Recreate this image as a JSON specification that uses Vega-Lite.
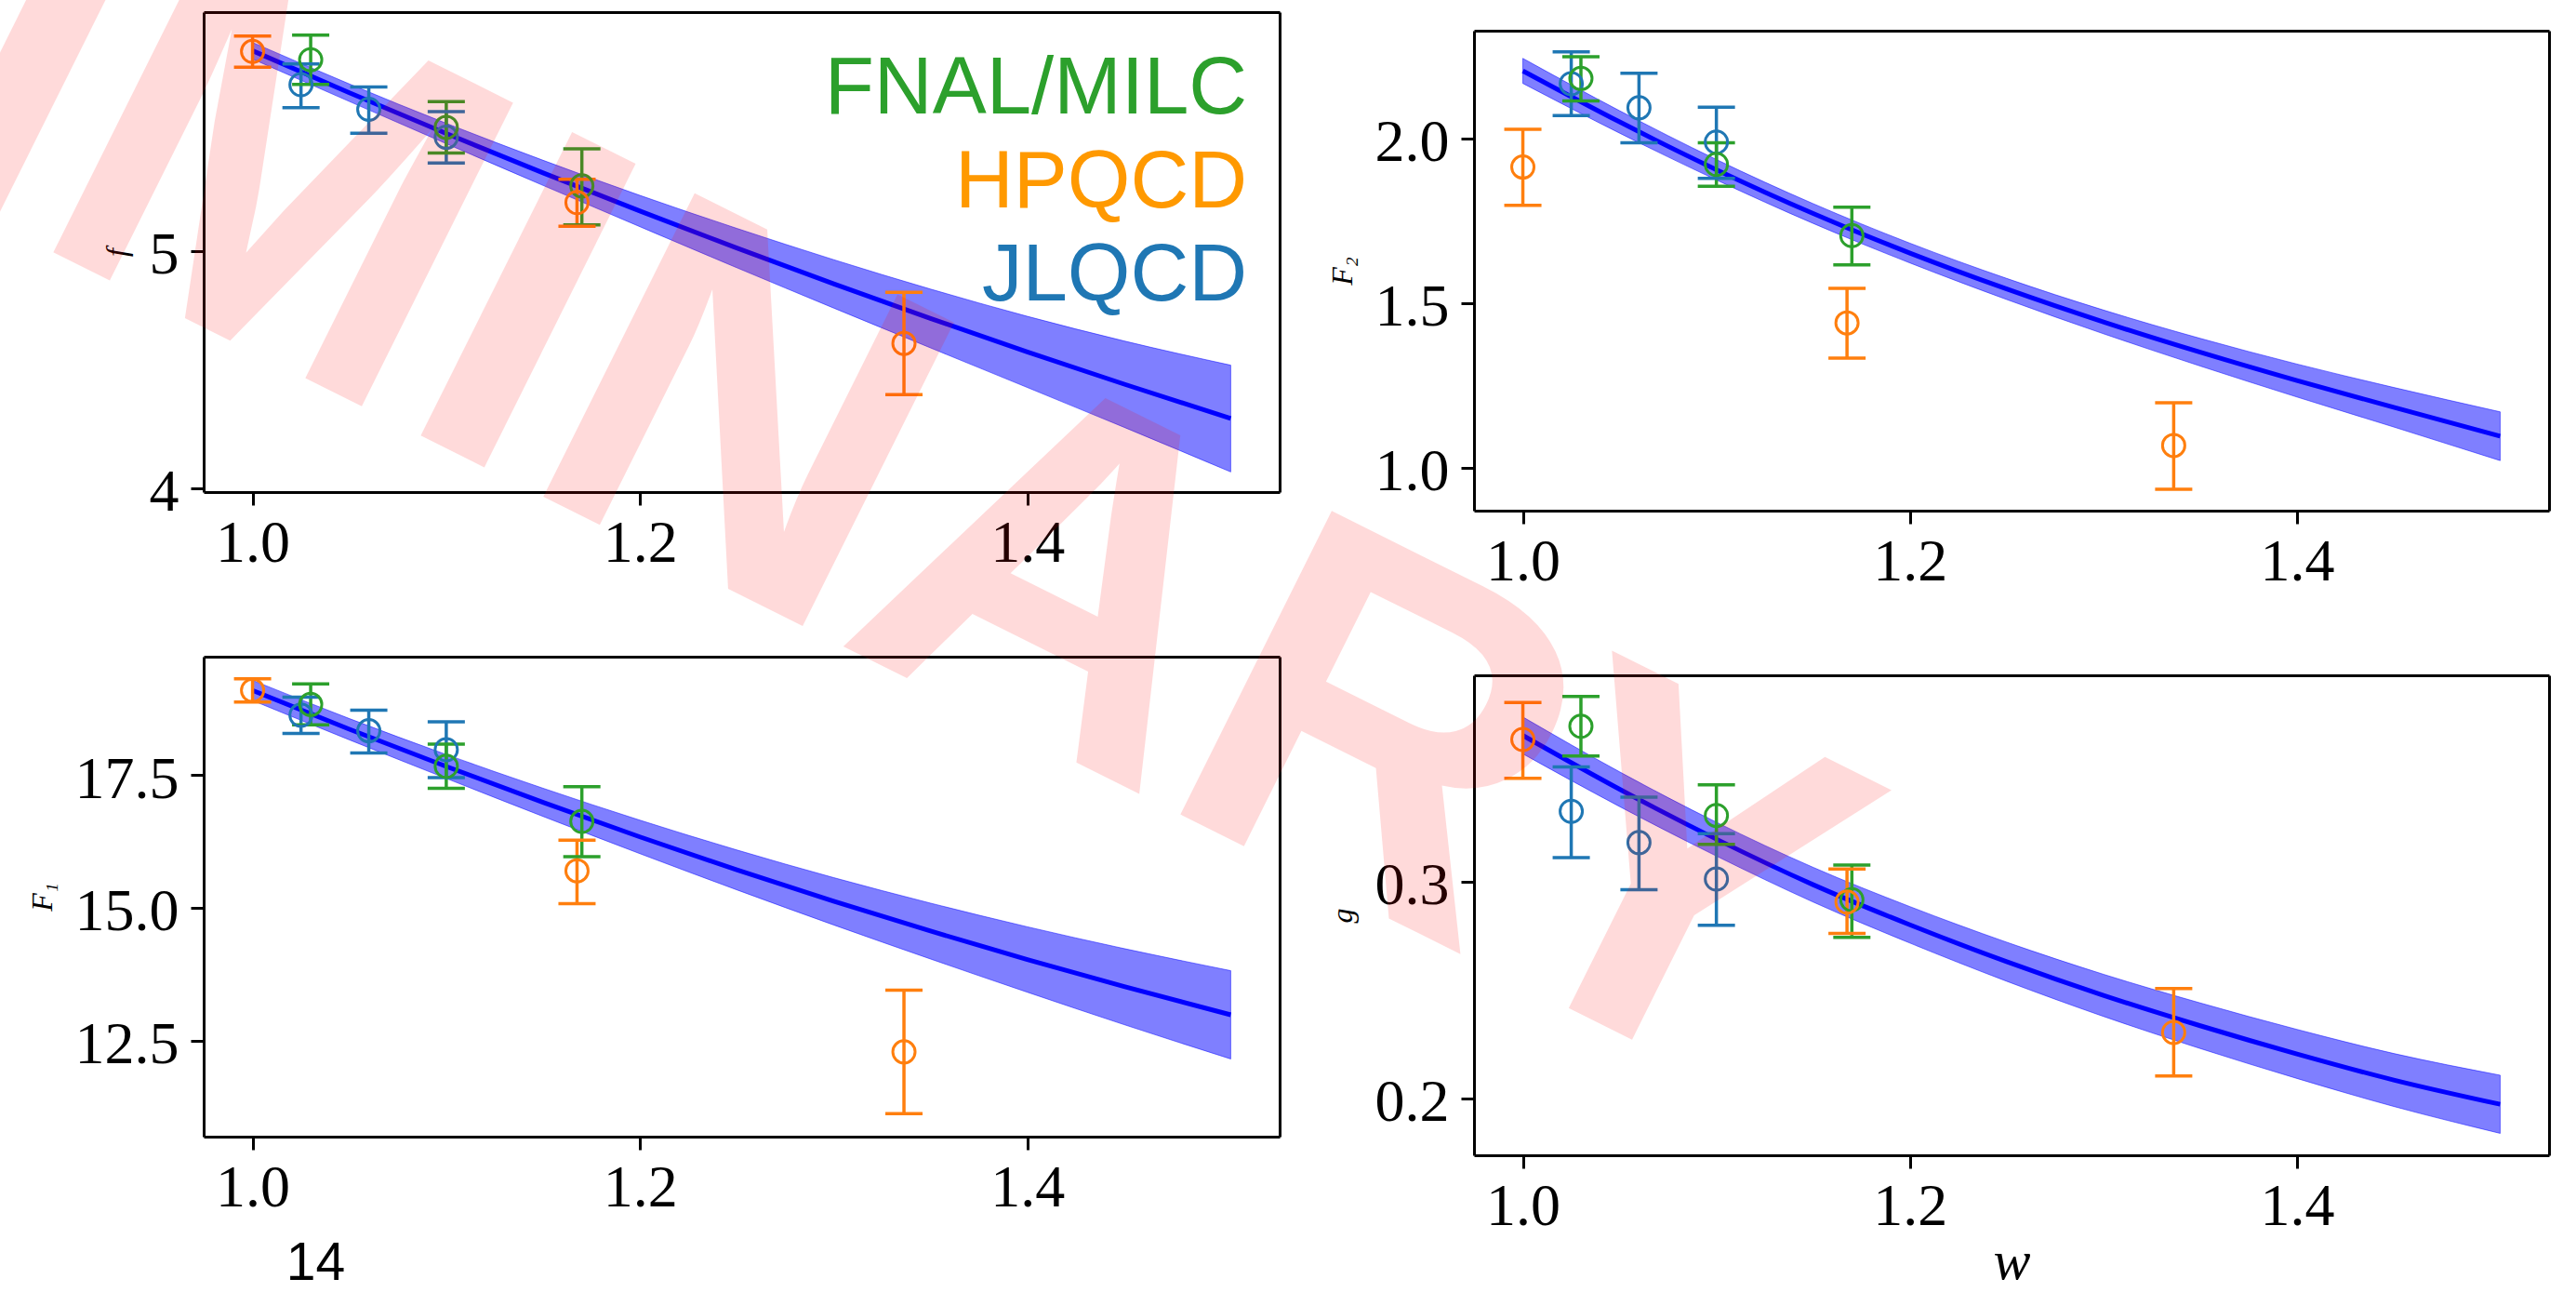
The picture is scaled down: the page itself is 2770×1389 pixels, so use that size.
{
"$schema":"https://vega.github.io/schema/vega-lite/v6.json",
"autosize":{"type":"none"},
"padding":{"left":219,"top":13,"right":0,"bottom":0},
"background":"white",
"params":[{"name":"width","value":2551},{"name":"height","value":1376}],
"datasets":{
"fit":[
{"panel":"f","w":1.0,"v":5.845,"lo":5.810,"hi":5.880},
{"panel":"f","w":1.05,"v":5.668,"lo":5.631,"hi":5.705},
{"panel":"f","w":1.10,"v":5.496,"lo":5.453,"hi":5.539},
{"panel":"f","w":1.15,"v":5.330,"lo":5.277,"hi":5.383},
{"panel":"f","w":1.20,"v":5.169,"lo":5.103,"hi":5.235},
{"panel":"f","w":1.25,"v":5.013,"lo":4.930,"hi":5.096},
{"panel":"f","w":1.30,"v":4.862,"lo":4.760,"hi":4.964},
{"panel":"f","w":1.35,"v":4.716,"lo":4.592,"hi":4.840},
{"panel":"f","w":1.40,"v":4.575,"lo":4.425,"hi":4.725},
{"panel":"f","w":1.45,"v":4.439,"lo":4.257,"hi":4.621},
{"panel":"f","w":1.505,"v":4.294,"lo":4.069,"hi":4.519},
{"panel":"F2","w":1.0,"v":2.205,"lo":2.167,"hi":2.243},
{"panel":"F2","w":1.05,"v":2.050,"lo":2.016,"hi":2.084},
{"panel":"F2","w":1.10,"v":1.905,"lo":1.874,"hi":1.936},
{"panel":"F2","w":1.15,"v":1.772,"lo":1.742,"hi":1.802},
{"panel":"F2","w":1.20,"v":1.652,"lo":1.622,"hi":1.682},
{"panel":"F2","w":1.25,"v":1.543,"lo":1.511,"hi":1.575},
{"panel":"F2","w":1.30,"v":1.443,"lo":1.407,"hi":1.479},
{"panel":"F2","w":1.35,"v":1.351,"lo":1.309,"hi":1.393},
{"panel":"F2","w":1.40,"v":1.265,"lo":1.215,"hi":1.315},
{"panel":"F2","w":1.45,"v":1.184,"lo":1.124,"hi":1.244},
{"panel":"F2","w":1.505,"v":1.096,"lo":1.022,"hi":1.170},
{"panel":"F1","w":1.0,"v":19.088,"lo":18.898,"hi":19.278},
{"panel":"F1","w":1.05,"v":18.358,"lo":18.158,"hi":18.558},
{"panel":"F1","w":1.10,"v":17.658,"lo":17.433,"hi":17.883},
{"panel":"F1","w":1.15,"v":16.983,"lo":16.718,"hi":17.248},
{"panel":"F1","w":1.20,"v":16.333,"lo":16.018,"hi":16.648},
{"panel":"F1","w":1.25,"v":15.713,"lo":15.338,"hi":16.088},
{"panel":"F1","w":1.30,"v":15.123,"lo":14.678,"hi":15.568},
{"panel":"F1","w":1.35,"v":14.563,"lo":14.038,"hi":15.088},
{"panel":"F1","w":1.40,"v":14.028,"lo":13.413,"hi":14.643},
{"panel":"F1","w":1.45,"v":13.518,"lo":12.803,"hi":14.233},
{"panel":"F1","w":1.505,"v":12.988,"lo":12.158,"hi":13.818},
{"panel":"g","w":1.0,"v":0.3673,"lo":0.3588,"hi":0.3758},
{"panel":"g","w":1.05,"v":0.3425,"lo":0.3345,"hi":0.3505},
{"panel":"g","w":1.10,"v":0.3195,"lo":0.3117,"hi":0.3273},
{"panel":"g","w":1.15,"v":0.2985,"lo":0.2905,"hi":0.3065},
{"panel":"g","w":1.20,"v":0.2800,"lo":0.2716,"hi":0.2884},
{"panel":"g","w":1.25,"v":0.2630,"lo":0.2540,"hi":0.2720},
{"panel":"g","w":1.30,"v":0.2475,"lo":0.2378,"hi":0.2572},
{"panel":"g","w":1.35,"v":0.2335,"lo":0.2230,"hi":0.2440},
{"panel":"g","w":1.40,"v":0.2205,"lo":0.2092,"hi":0.2318},
{"panel":"g","w":1.45,"v":0.2085,"lo":0.1963,"hi":0.2207},
{"panel":"g","w":1.505,"v":0.1973,"lo":0.1839,"hi":0.2107}
],
"pts":[
{"panel":"f","coll":"JLQCD","w":1.025,"v":5.702,"lo":5.605,"hi":5.789},
{"panel":"f","coll":"JLQCD","w":1.06,"v":5.598,"lo":5.497,"hi":5.692},
{"panel":"f","coll":"JLQCD","w":1.10,"v":5.480,"lo":5.372,"hi":5.588},
{"panel":"f","coll":"FNAL/MILC","w":1.03,"v":5.807,"lo":5.703,"hi":5.911},
{"panel":"f","coll":"FNAL/MILC","w":1.10,"v":5.522,"lo":5.414,"hi":5.630},
{"panel":"f","coll":"FNAL/MILC","w":1.17,"v":5.275,"lo":5.111,"hi":5.431},
{"panel":"f","coll":"HPQCD","w":1.0,"v":5.842,"lo":5.776,"hi":5.907},
{"panel":"f","coll":"HPQCD","w":1.1675,"v":5.205,"lo":5.105,"hi":5.303},
{"panel":"f","coll":"HPQCD","w":1.3363,"v":4.611,"lo":4.395,"hi":4.826},
{"panel":"F2","coll":"JLQCD","w":1.025,"v":2.166,"lo":2.069,"hi":2.263},
{"panel":"F2","coll":"JLQCD","w":1.06,"v":2.093,"lo":1.987,"hi":2.198},
{"panel":"F2","coll":"JLQCD","w":1.10,"v":1.989,"lo":1.879,"hi":2.095},
{"panel":"F2","coll":"FNAL/MILC","w":1.03,"v":2.182,"lo":2.114,"hi":2.248},
{"panel":"F2","coll":"FNAL/MILC","w":1.10,"v":1.921,"lo":1.855,"hi":1.987},
{"panel":"F2","coll":"FNAL/MILC","w":1.17,"v":1.705,"lo":1.616,"hi":1.791},
{"panel":"F2","coll":"HPQCD","w":1.0,"v":1.913,"lo":1.797,"hi":2.028},
{"panel":"F2","coll":"HPQCD","w":1.1675,"v":1.440,"lo":1.333,"hi":1.545},
{"panel":"F2","coll":"HPQCD","w":1.3363,"v":1.068,"lo":0.935,"hi":1.1975},
{"panel":"F1","coll":"JLQCD","w":1.025,"v":18.623,"lo":18.28,"hi":18.96},
{"panel":"F1","coll":"JLQCD","w":1.06,"v":18.33,"lo":17.91,"hi":18.716},
{"panel":"F1","coll":"JLQCD","w":1.10,"v":17.973,"lo":17.447,"hi":18.499},
{"panel":"F1","coll":"FNAL/MILC","w":1.03,"v":18.824,"lo":18.44,"hi":19.21},
{"panel":"F1","coll":"FNAL/MILC","w":1.10,"v":17.663,"lo":17.245,"hi":18.08},
{"panel":"F1","coll":"FNAL/MILC","w":1.17,"v":16.625,"lo":15.96,"hi":17.277},
{"panel":"F1","coll":"HPQCD","w":1.0,"v":19.088,"lo":18.871,"hi":19.305},
{"panel":"F1","coll":"HPQCD","w":1.1675,"v":15.697,"lo":15.08,"hi":16.27},
{"panel":"F1","coll":"HPQCD","w":1.3363,"v":12.291,"lo":11.13,"hi":13.453},
{"panel":"g","coll":"JLQCD","w":1.025,"v":0.3323,"lo":0.311,"hi":0.3528},
{"panel":"g","coll":"JLQCD","w":1.06,"v":0.3179,"lo":0.2962,"hi":0.3388},
{"panel":"g","coll":"JLQCD","w":1.10,"v":0.3011,"lo":0.2798,"hi":0.322},
{"panel":"g","coll":"FNAL/MILC","w":1.03,"v":0.3715,"lo":0.3578,"hi":0.3852},
{"panel":"g","coll":"FNAL/MILC","w":1.10,"v":0.3304,"lo":0.3171,"hi":0.3445},
{"panel":"g","coll":"FNAL/MILC","w":1.17,"v":0.2916,"lo":0.2742,"hi":0.3076},
{"panel":"g","coll":"HPQCD","w":1.0,"v":0.3654,"lo":0.3475,"hi":0.3825},
{"panel":"g","coll":"HPQCD","w":1.1675,"v":0.2905,"lo":0.276,"hi":0.3057},
{"panel":"g","coll":"HPQCD","w":1.3363,"v":0.2304,"lo":0.2103,"hi":0.2506}
],
"notes":[
{"kind":"legend","coll":"FNAL/MILC","label":"FNAL/MILC","w":1.5135,"v":5.5804},
{"kind":"legend","coll":"HPQCD","label":"HPQCD","w":1.5135,"v":5.1862},
{"kind":"legend","coll":"JLQCD","label":"JLQCD","w":1.5135,"v":4.792},
{"kind":"page","label":"14","w":1.0326,"v":8.0},
{"kind":"watermark","label":"PRELIMINARY","w":0.3351,"v":0.5479}
]
},
"columns":2,
"spacing":{"row":157,"column":209},
"bounds":"flush",
"concat":[
{"width":1157,"height":516,
"layer":[
{"data":{"name":"fit"},"transform":[{"filter":{"field":"panel","equal":"f"}}],
"mark":{"type":"area","interpolate":"monotone","fill":"#0000ff","fillOpacity":0.5,"stroke":"#0000ff","strokeOpacity":0.5,"strokeWidth":1},
"encoding":{"x":{"field":"w","type":"quantitative","scale":{"domain":[0.97475,1.53025]},"axis":{"orient":"bottom","values":[1,1.2,1.4],"format":".1f","title":null}},
"y":{"field":"lo","type":"quantitative","scale":{"domain":[3.984,6.008]},"axis":{"orient":"left","values":[4,5],"format":"d","title":"f"}},
"y2":{"field":"hi"}}},
{"data":{"name":"fit"},"transform":[{"filter":{"field":"panel","equal":"f"}}],
"mark":{"type":"line","interpolate":"monotone","color":"#0000ff","strokeWidth":5},
"encoding":{"x":{"field":"w","type":"quantitative","scale":{"domain":[0.97475,1.53025]},"axis":{"orient":"top","ticks":false,"labels":false,"title":null,"offset":0}},
"y":{"field":"v","type":"quantitative","scale":{"domain":[3.984,6.008]},"axis":{"orient":"right","ticks":false,"labels":false,"title":null}}}},
{"data":{"name":"pts"},"transform":[{"filter":{"field":"panel","equal":"f"}}],
"mark":{"type":"rule","strokeWidth":3.5,"opacity":1},
"encoding":{"x":{"field":"w","type":"quantitative","scale":{"domain":[0.97475,1.53025]},"axis":null},
"y":{"field":"lo","type":"quantitative","scale":{"domain":[3.984,6.008]},"axis":null},"y2":{"field":"hi"},
"color":{"field":"coll","type":"nominal","scale":{"domain":["FNAL/MILC","HPQCD","JLQCD"],"range":["#2ca02c","#ff7f0e","#1f77b4"]},"legend":null}}},
{"data":{"name":"pts"},"transform":[{"filter":{"field":"panel","equal":"f"}}],
"mark":{"type":"tick","orient":"horizontal","size":40,"thickness":3.5,"opacity":1},
"encoding":{"x":{"field":"w","type":"quantitative","scale":{"domain":[0.97475,1.53025]},"axis":null},
"y":{"field":"lo","type":"quantitative","scale":{"domain":[3.984,6.008]},"axis":null},
"color":{"field":"coll","type":"nominal","legend":null}}},
{"data":{"name":"pts"},"transform":[{"filter":{"field":"panel","equal":"f"}}],
"mark":{"type":"tick","orient":"horizontal","size":40,"thickness":3.5,"opacity":1},
"encoding":{"x":{"field":"w","type":"quantitative","scale":{"domain":[0.97475,1.53025]},"axis":null},
"y":{"field":"hi","type":"quantitative","scale":{"domain":[3.984,6.008]},"axis":null},
"color":{"field":"coll","type":"nominal","legend":null}}},
{"data":{"name":"pts"},"transform":[{"filter":{"field":"panel","equal":"f"}}],
"mark":{"type":"point","shape":"circle","filled":false,"size":576,"strokeWidth":3,"opacity":1},
"encoding":{"x":{"field":"w","type":"quantitative","scale":{"domain":[0.97475,1.53025]},"axis":null},
"y":{"field":"v","type":"quantitative","scale":{"domain":[3.984,6.008]},"axis":null},
"color":{"field":"coll","type":"nominal","legend":null}}},
{"data":{"name":"notes"},"transform":[{"filter":{"field":"kind","equal":"legend"}}],
"mark":{"type":"text","font":"Liberation Sans","fontSize":87,"align":"right","baseline":"alphabetic"},
"encoding":{"x":{"field":"w","type":"quantitative","scale":{"domain":[0.97475,1.53025]},"axis":null},
"y":{"field":"v","type":"quantitative","scale":{"domain":[3.984,6.008]},"axis":null},
"text":{"field":"label"},
"fill":{"field":"coll","type":"nominal","scale":{"domain":["FNAL/MILC","HPQCD","JLQCD"],"range":["#2ca02c","#ff9900","#1f77b4"]},"legend":null}}}
],
"resolve":{"axis":{"x":"independent","y":"independent"}}},
{"width":1156,"height":536,
"layer":[
{"data":{"name":"fit"},"transform":[{"filter":{"field":"panel","equal":"F2"}}],
"mark":{"type":"area","interpolate":"monotone","fill":"#0000ff","fillOpacity":0.5,"stroke":"#0000ff","strokeOpacity":0.5,"strokeWidth":1},
"encoding":{"x":{"field":"w","type":"quantitative","scale":{"domain":[0.97475,1.53025]},"axis":{"orient":"bottom","values":[1,1.2,1.4],"format":".1f","title":null}},
"y":{"field":"lo","type":"quantitative","scale":{"domain":[0.870,2.327],"range":[536,20]},"axis":{"orient":"left","values":[1,1.5,2],"format":".1f","title":"F₂"}},
"y2":{"field":"hi"}}},
{"data":{"name":"fit"},"transform":[{"filter":{"field":"panel","equal":"F2"}}],
"mark":{"type":"line","interpolate":"monotone","color":"#0000ff","strokeWidth":5},
"encoding":{"x":{"field":"w","type":"quantitative","scale":{"domain":[0.97475,1.53025]},"axis":{"orient":"top","ticks":false,"labels":false,"title":null,"offset":-20}},
"y":{"field":"v","type":"quantitative","scale":{"domain":[0.870,2.327],"range":[536,20]},"axis":{"orient":"right","ticks":false,"labels":false,"title":null}}}},
{"data":{"name":"pts"},"transform":[{"filter":{"field":"panel","equal":"F2"}}],
"mark":{"type":"rule","strokeWidth":3.5,"opacity":1},
"encoding":{"x":{"field":"w","type":"quantitative","scale":{"domain":[0.97475,1.53025]},"axis":null},
"y":{"field":"lo","type":"quantitative","scale":{"domain":[0.870,2.327],"range":[536,20]},"axis":null},"y2":{"field":"hi"},
"color":{"field":"coll","type":"nominal","scale":{"domain":["FNAL/MILC","HPQCD","JLQCD"],"range":["#2ca02c","#ff7f0e","#1f77b4"]},"legend":null}}},
{"data":{"name":"pts"},"transform":[{"filter":{"field":"panel","equal":"F2"}}],
"mark":{"type":"tick","orient":"horizontal","size":40,"thickness":3.5,"opacity":1},
"encoding":{"x":{"field":"w","type":"quantitative","scale":{"domain":[0.97475,1.53025]},"axis":null},
"y":{"field":"lo","type":"quantitative","scale":{"domain":[0.870,2.327],"range":[536,20]},"axis":null},
"color":{"field":"coll","type":"nominal","legend":null}}},
{"data":{"name":"pts"},"transform":[{"filter":{"field":"panel","equal":"F2"}}],
"mark":{"type":"tick","orient":"horizontal","size":40,"thickness":3.5,"opacity":1},
"encoding":{"x":{"field":"w","type":"quantitative","scale":{"domain":[0.97475,1.53025]},"axis":null},
"y":{"field":"hi","type":"quantitative","scale":{"domain":[0.870,2.327],"range":[536,20]},"axis":null},
"color":{"field":"coll","type":"nominal","legend":null}}},
{"data":{"name":"pts"},"transform":[{"filter":{"field":"panel","equal":"F2"}}],
"mark":{"type":"point","shape":"circle","filled":false,"size":576,"strokeWidth":3,"opacity":1},
"encoding":{"x":{"field":"w","type":"quantitative","scale":{"domain":[0.97475,1.53025]},"axis":null},
"y":{"field":"v","type":"quantitative","scale":{"domain":[0.870,2.327],"range":[536,20]},"axis":null},
"color":{"field":"coll","type":"nominal","legend":null}}}
],
"resolve":{"axis":{"x":"independent","y":"independent"}}},
{"width":1157,"height":516,
"layer":[
{"data":{"name":"fit"},"transform":[{"filter":{"field":"panel","equal":"F1"}}],
"mark":{"type":"area","interpolate":"monotone","fill":"#0000ff","fillOpacity":0.5,"stroke":"#0000ff","strokeOpacity":0.5,"strokeWidth":1},
"encoding":{"x":{"field":"w","type":"quantitative","scale":{"domain":[0.97475,1.53025]},"axis":{"orient":"bottom","values":[1,1.2,1.4],"format":".1f","title":null}},
"y":{"field":"lo","type":"quantitative","scale":{"domain":[10.697,19.722]},"axis":{"orient":"left","values":[12.5,15,17.5],"format":".1f","title":"F₁"}},
"y2":{"field":"hi"}}},
{"data":{"name":"fit"},"transform":[{"filter":{"field":"panel","equal":"F1"}}],
"mark":{"type":"line","interpolate":"monotone","color":"#0000ff","strokeWidth":5},
"encoding":{"x":{"field":"w","type":"quantitative","scale":{"domain":[0.97475,1.53025]},"axis":{"orient":"top","ticks":false,"labels":false,"title":null,"offset":0}},
"y":{"field":"v","type":"quantitative","scale":{"domain":[10.697,19.722]},"axis":{"orient":"right","ticks":false,"labels":false,"title":null}}}},
{"data":{"name":"pts"},"transform":[{"filter":{"field":"panel","equal":"F1"}}],
"mark":{"type":"rule","strokeWidth":3.5,"opacity":1},
"encoding":{"x":{"field":"w","type":"quantitative","scale":{"domain":[0.97475,1.53025]},"axis":null},
"y":{"field":"lo","type":"quantitative","scale":{"domain":[10.697,19.722]},"axis":null},"y2":{"field":"hi"},
"color":{"field":"coll","type":"nominal","scale":{"domain":["FNAL/MILC","HPQCD","JLQCD"],"range":["#2ca02c","#ff7f0e","#1f77b4"]},"legend":null}}},
{"data":{"name":"pts"},"transform":[{"filter":{"field":"panel","equal":"F1"}}],
"mark":{"type":"tick","orient":"horizontal","size":40,"thickness":3.5,"opacity":1},
"encoding":{"x":{"field":"w","type":"quantitative","scale":{"domain":[0.97475,1.53025]},"axis":null},
"y":{"field":"lo","type":"quantitative","scale":{"domain":[10.697,19.722]},"axis":null},
"color":{"field":"coll","type":"nominal","legend":null}}},
{"data":{"name":"pts"},"transform":[{"filter":{"field":"panel","equal":"F1"}}],
"mark":{"type":"tick","orient":"horizontal","size":40,"thickness":3.5,"opacity":1},
"encoding":{"x":{"field":"w","type":"quantitative","scale":{"domain":[0.97475,1.53025]},"axis":null},
"y":{"field":"hi","type":"quantitative","scale":{"domain":[10.697,19.722]},"axis":null},
"color":{"field":"coll","type":"nominal","legend":null}}},
{"data":{"name":"pts"},"transform":[{"filter":{"field":"panel","equal":"F1"}}],
"mark":{"type":"point","shape":"circle","filled":false,"size":576,"strokeWidth":3,"opacity":1},
"encoding":{"x":{"field":"w","type":"quantitative","scale":{"domain":[0.97475,1.53025]},"axis":null},
"y":{"field":"v","type":"quantitative","scale":{"domain":[10.697,19.722]},"axis":null},
"color":{"field":"coll","type":"nominal","legend":null}}},
{"data":{"name":"notes"},"transform":[{"filter":{"field":"kind","equal":"page"}}],
"mark":{"type":"text","font":"Liberation Sans","fontSize":57,"align":"center","baseline":"alphabetic","color":"black"},
"encoding":{"x":{"field":"w","type":"quantitative","scale":{"domain":[0.97475,1.53025]},"axis":null},
"y":{"field":"v","type":"quantitative","scale":{"domain":[10.697,19.722]},"axis":null},
"text":{"field":"label"}}}
],
"resolve":{"axis":{"x":"independent","y":"independent"}}},
{"width":1156,"height":536,
"layer":[
{"data":{"name":"fit"},"transform":[{"filter":{"field":"panel","equal":"g"}}],
"mark":{"type":"area","interpolate":"monotone","fill":"#0000ff","fillOpacity":0.5,"stroke":"#0000ff","strokeOpacity":0.5,"strokeWidth":1},
"encoding":{"x":{"field":"w","type":"quantitative","scale":{"domain":[0.97475,1.53025]},"axis":{"orient":"bottom","values":[1,1.2,1.4],"format":".1f","title":"w"}},
"y":{"field":"lo","type":"quantitative","scale":{"domain":[0.1738,0.395],"range":[536,20]},"axis":{"orient":"left","values":[0.2,0.3],"format":".1f","title":"g"}},
"y2":{"field":"hi"}}},
{"data":{"name":"fit"},"transform":[{"filter":{"field":"panel","equal":"g"}}],
"mark":{"type":"line","interpolate":"monotone","color":"#0000ff","strokeWidth":5},
"encoding":{"x":{"field":"w","type":"quantitative","scale":{"domain":[0.97475,1.53025]},"axis":{"orient":"top","ticks":false,"labels":false,"title":null,"offset":-20}},
"y":{"field":"v","type":"quantitative","scale":{"domain":[0.1738,0.395],"range":[536,20]},"axis":{"orient":"right","ticks":false,"labels":false,"title":null}}}},
{"data":{"name":"pts"},"transform":[{"filter":{"field":"panel","equal":"g"}}],
"mark":{"type":"rule","strokeWidth":3.5,"opacity":1},
"encoding":{"x":{"field":"w","type":"quantitative","scale":{"domain":[0.97475,1.53025]},"axis":null},
"y":{"field":"lo","type":"quantitative","scale":{"domain":[0.1738,0.395],"range":[536,20]},"axis":null},"y2":{"field":"hi"},
"color":{"field":"coll","type":"nominal","scale":{"domain":["FNAL/MILC","HPQCD","JLQCD"],"range":["#2ca02c","#ff7f0e","#1f77b4"]},"legend":null}}},
{"data":{"name":"pts"},"transform":[{"filter":{"field":"panel","equal":"g"}}],
"mark":{"type":"tick","orient":"horizontal","size":40,"thickness":3.5,"opacity":1},
"encoding":{"x":{"field":"w","type":"quantitative","scale":{"domain":[0.97475,1.53025]},"axis":null},
"y":{"field":"lo","type":"quantitative","scale":{"domain":[0.1738,0.395],"range":[536,20]},"axis":null},
"color":{"field":"coll","type":"nominal","legend":null}}},
{"data":{"name":"pts"},"transform":[{"filter":{"field":"panel","equal":"g"}}],
"mark":{"type":"tick","orient":"horizontal","size":40,"thickness":3.5,"opacity":1},
"encoding":{"x":{"field":"w","type":"quantitative","scale":{"domain":[0.97475,1.53025]},"axis":null},
"y":{"field":"hi","type":"quantitative","scale":{"domain":[0.1738,0.395],"range":[536,20]},"axis":null},
"color":{"field":"coll","type":"nominal","legend":null}}},
{"data":{"name":"pts"},"transform":[{"filter":{"field":"panel","equal":"g"}}],
"mark":{"type":"point","shape":"circle","filled":false,"size":576,"strokeWidth":3,"opacity":1},
"encoding":{"x":{"field":"w","type":"quantitative","scale":{"domain":[0.97475,1.53025]},"axis":null},
"y":{"field":"v","type":"quantitative","scale":{"domain":[0.1738,0.395],"range":[536,20]},"axis":null},
"color":{"field":"coll","type":"nominal","legend":null}}},
{"data":{"name":"notes"},"transform":[{"filter":{"field":"kind","equal":"watermark"}}],
"mark":{"type":"text","font":"Liberation Sans","fontWeight":"bold","fontSize":530,"angle":26.5,"align":"center","baseline":"alphabetic","color":"#ff0000","opacity":0.14},
"encoding":{"x":{"field":"w","type":"quantitative","scale":{"domain":[0.97475,1.53025]},"axis":null},
"y":{"field":"v","type":"quantitative","scale":{"domain":[0.1738,0.395],"range":[536,20]},"axis":null},
"text":{"field":"label"}}}
],
"resolve":{"axis":{"x":"independent","y":"independent"}}}
],
"config":{
"view":{"stroke":null},
"axis":{"grid":false,"domainColor":"black","domainWidth":3,"tickColor":"black","tickWidth":3,"tickSize":14,"labelFont":"Liberation Serif","labelFontSize":64,"labelColor":"black","labelFlush":false,"labelOverlap":false,"titleFont":"Liberation Serif","titleFontStyle":"italic","titleFontWeight":"normal","titleColor":"black"},
"axisX":{"labelPadding":9,"titleFontSize":60,"titlePadding":-2},
"axisY":{"labelPadding":13,"labelOffset":5,"titleFontSize":32,"titlePadding":18}
}
}
